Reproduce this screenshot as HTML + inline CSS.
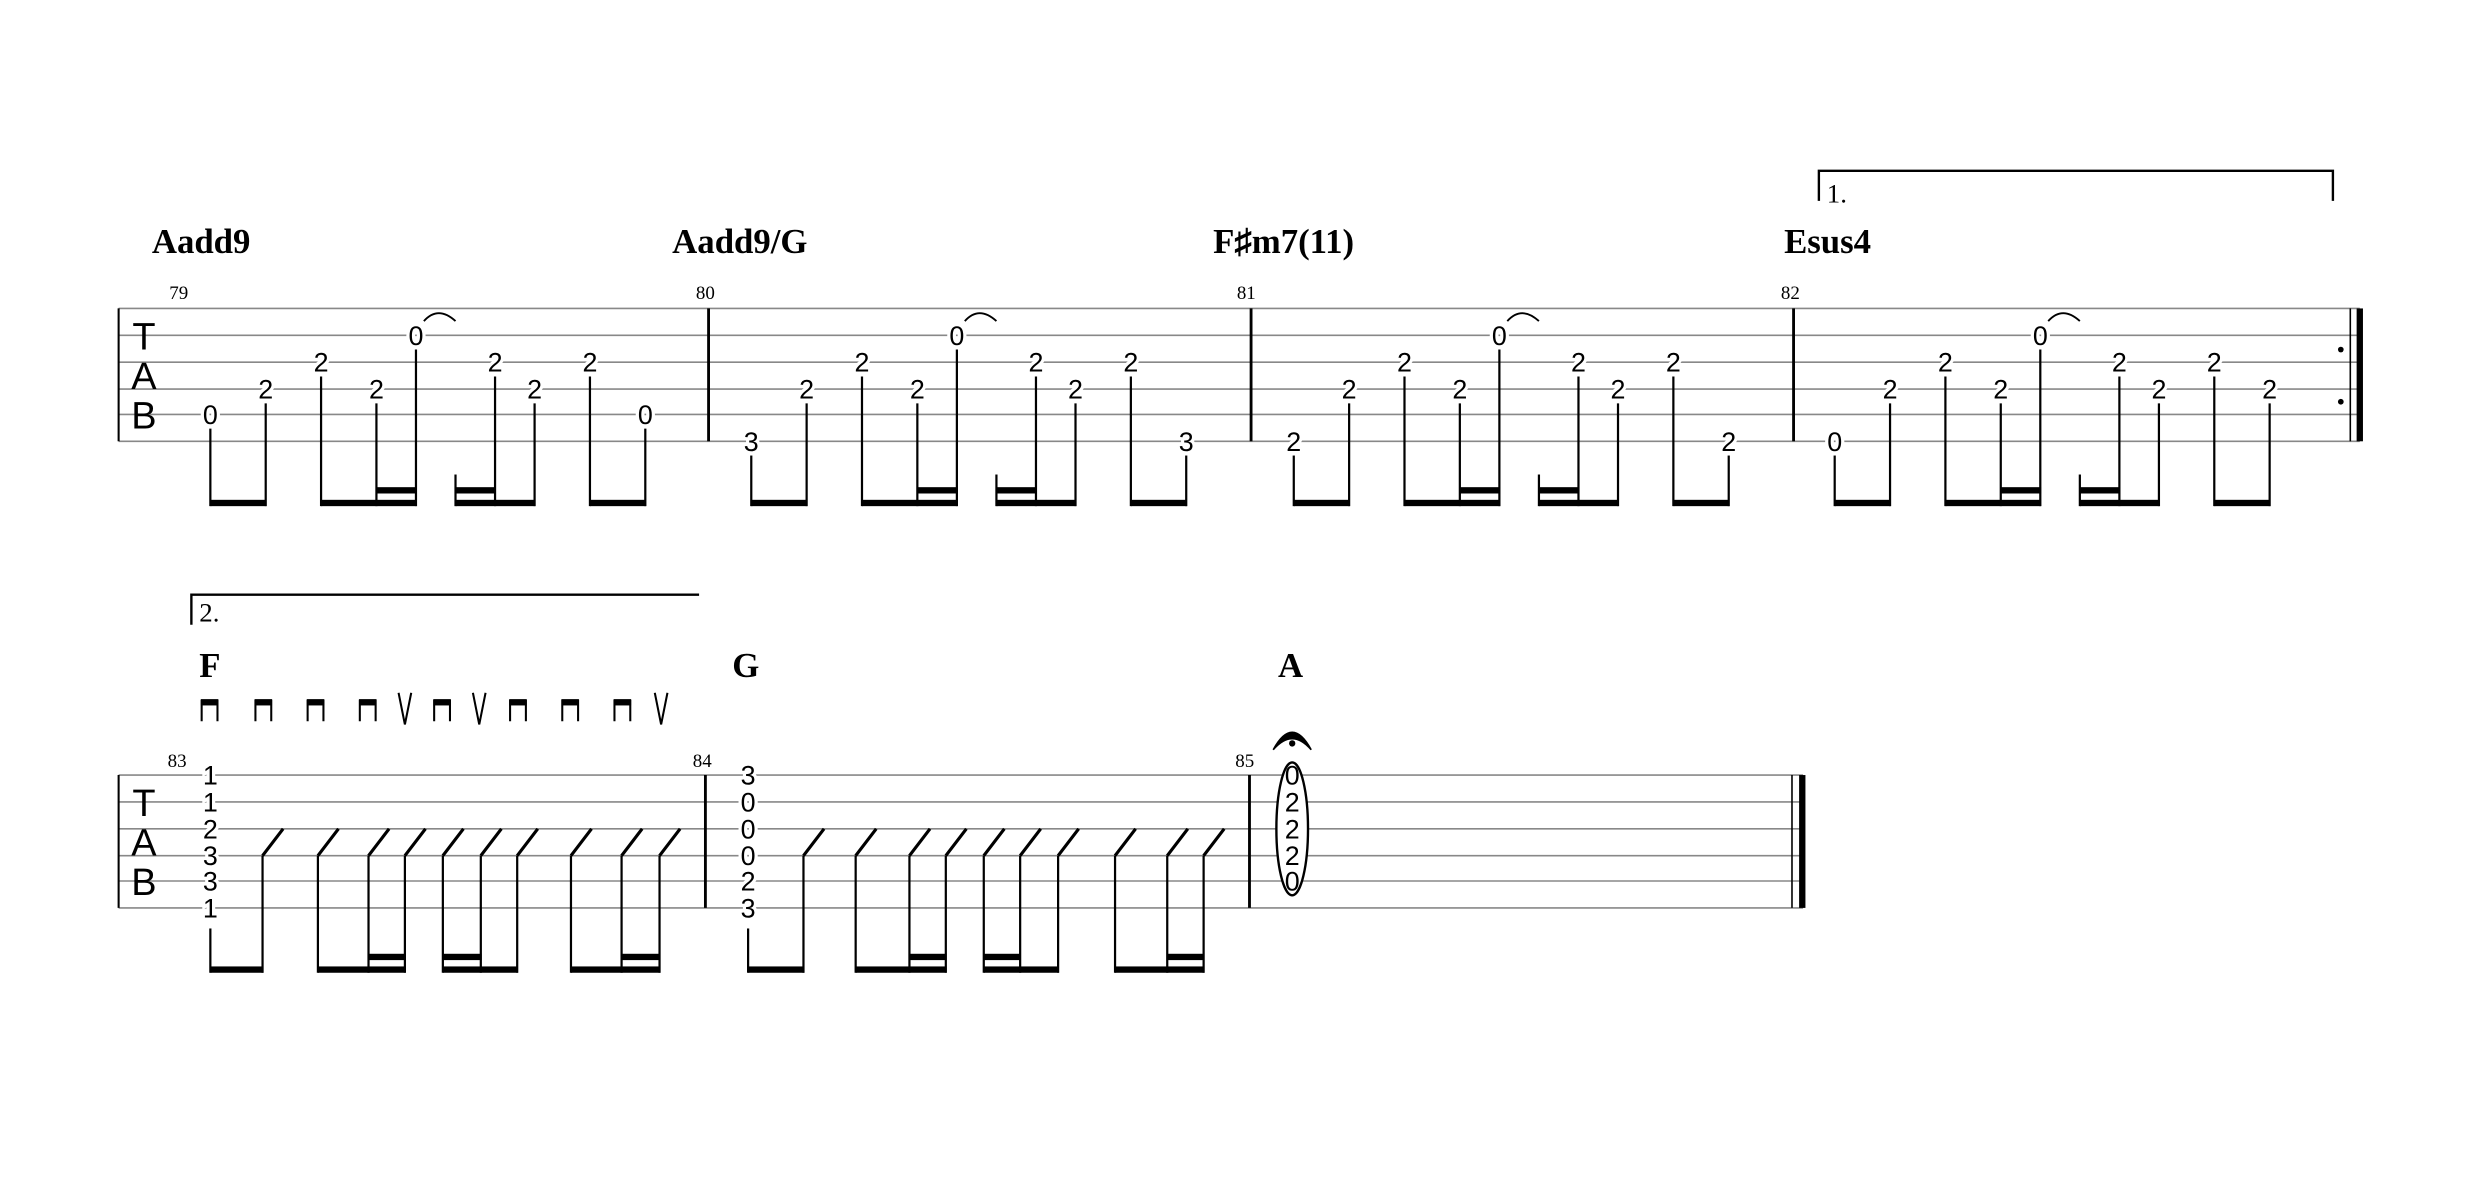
<!DOCTYPE html>
<html><head><meta charset="utf-8"><style>
html,body{margin:0;padding:0;background:#fff;width:2480px;height:1201px;overflow:hidden}
svg{display:block}
.f{font-family:"Liberation Sans",sans-serif;font-size:17px;text-anchor:middle;fill:#000;stroke:#fff;stroke-width:4px;paint-order:stroke}
.c{font-family:"Liberation Serif",serif;font-weight:bold;font-size:22px;fill:#000}
.n{font-family:"Liberation Serif",serif;font-size:12px;fill:#000}
.tab{font-family:"Liberation Sans",sans-serif;font-size:24px;text-anchor:middle;fill:#000}
.l{stroke:#888;stroke-width:1}
.s{stroke:#000;stroke-width:1.4}
</style></head><body>
<svg width="2480" height="1201" viewBox="0 0 1568 759.3" preserveAspectRatio="none" xmlns="http://www.w3.org/2000/svg">
<g class="l">
<line x1="75" y1="195" x2="1492" y2="195"/><line x1="75" y1="212" x2="1492" y2="212"/><line x1="75" y1="229" x2="1492" y2="229"/>
<line x1="75" y1="246" x2="1492" y2="246"/><line x1="75" y1="262" x2="1492" y2="262"/><line x1="75" y1="279" x2="1492" y2="279"/>
</g>
<g stroke="#000">
<line x1="75" y1="195" x2="75" y2="279" stroke-width="1.3"/>
<line x1="448" y1="195" x2="448" y2="279" stroke-width="1.8"/>
<line x1="791" y1="195" x2="791" y2="279" stroke-width="1.8"/>
<line x1="1134" y1="195" x2="1134" y2="279" stroke-width="1.8"/>
<line x1="1486" y1="195" x2="1486" y2="279" stroke-width="1"/>
</g>
<rect x="1490" y="195" width="4" height="84" fill="#000"/>
<circle cx="1480" cy="221" r="1.8" fill="#000"/><circle cx="1480" cy="254" r="1.8" fill="#000"/>
<text class="tab" x="91" y="221">T</text><text class="tab" x="91" y="246">A</text><text class="tab" x="91" y="271">B</text>
<text class="n" x="107" y="189">79</text><text class="n" x="440" y="189">80</text><text class="n" x="782" y="189">81</text><text class="n" x="1126" y="189">82</text>
<text class="c" x="96" y="160">Aadd9</text><text class="c" x="425" y="160">Aadd9/G</text><text class="c" x="767" y="160">F♯m7(11)</text><text class="c" x="1128" y="160">Esus4</text>
<path d="M1150 127 V108 H1475 V127" fill="none" stroke="#000" stroke-width="1.5"/>
<text class="n" x="1155" y="128" style="font-size:17px">1.</text>

<g fill="none" stroke="#000" stroke-width="1.2">
<path d="M268 203 Q277 193 288 203"/><path d="M610 203 Q619 193 630 203"/><path d="M953 203 Q962 193 973 203"/><path d="M1295 203 Q1304 193 1315 203"/>
</g>

<g class="s">
<line x1="133" y1="271" x2="133" y2="320"/><line x1="168" y1="255" x2="168" y2="320"/><line x1="203" y1="238" x2="203" y2="320"/>
<line x1="238" y1="255" x2="238" y2="320"/><line x1="263" y1="221" x2="263" y2="320"/><line x1="288" y1="300" x2="288" y2="320"/>
<line x1="313" y1="238" x2="313" y2="320"/><line x1="338" y1="255" x2="338" y2="320"/><line x1="373" y1="238" x2="373" y2="320"/><line x1="408" y1="271" x2="408" y2="320"/>
<line x1="475" y1="288" x2="475" y2="320"/><line x1="510" y1="255" x2="510" y2="320"/><line x1="545" y1="238" x2="545" y2="320"/>
<line x1="580" y1="255" x2="580" y2="320"/><line x1="605" y1="221" x2="605" y2="320"/><line x1="630" y1="300" x2="630" y2="320"/>
<line x1="655" y1="238" x2="655" y2="320"/><line x1="680" y1="255" x2="680" y2="320"/><line x1="715" y1="238" x2="715" y2="320"/><line x1="750" y1="288" x2="750" y2="320"/>
<line x1="818" y1="288" x2="818" y2="320"/><line x1="853" y1="255" x2="853" y2="320"/><line x1="888" y1="238" x2="888" y2="320"/>
<line x1="923" y1="255" x2="923" y2="320"/><line x1="948" y1="221" x2="948" y2="320"/><line x1="973" y1="300" x2="973" y2="320"/>
<line x1="998" y1="238" x2="998" y2="320"/><line x1="1023" y1="255" x2="1023" y2="320"/><line x1="1058" y1="238" x2="1058" y2="320"/><line x1="1093" y1="288" x2="1093" y2="320"/>
<line x1="1160" y1="288" x2="1160" y2="320"/><line x1="1195" y1="255" x2="1195" y2="320"/><line x1="1230" y1="238" x2="1230" y2="320"/>
<line x1="1265" y1="255" x2="1265" y2="320"/><line x1="1290" y1="221" x2="1290" y2="320"/><line x1="1315" y1="300" x2="1315" y2="320"/>
<line x1="1340" y1="238" x2="1340" y2="320"/><line x1="1365" y1="255" x2="1365" y2="320"/><line x1="1400" y1="238" x2="1400" y2="320"/><line x1="1435" y1="255" x2="1435" y2="320"/>
</g>
<g fill="#000">
<rect x="133" y="316" width="35.5" height="4"/><rect x="203" y="316" width="60.5" height="4"/><rect x="288" y="316" width="50.5" height="4"/><rect x="373" y="316" width="35.5" height="4"/>
<rect x="238" y="308" width="25.5" height="4"/><rect x="288" y="308" width="25.5" height="4"/>
<rect x="475" y="316" width="35.5" height="4"/><rect x="545" y="316" width="60.5" height="4"/><rect x="630" y="316" width="50.5" height="4"/><rect x="715" y="316" width="35.5" height="4"/>
<rect x="580" y="308" width="25.5" height="4"/><rect x="630" y="308" width="25.5" height="4"/>
<rect x="818" y="316" width="35.5" height="4"/><rect x="888" y="316" width="60.5" height="4"/><rect x="973" y="316" width="50.5" height="4"/><rect x="1058" y="316" width="35.5" height="4"/>
<rect x="923" y="308" width="25.5" height="4"/><rect x="973" y="308" width="25.5" height="4"/>
<rect x="1160" y="316" width="35.5" height="4"/><rect x="1230" y="316" width="60.5" height="4"/><rect x="1315" y="316" width="50.5" height="4"/><rect x="1400" y="316" width="35.5" height="4"/>
<rect x="1265" y="308" width="25.5" height="4"/><rect x="1315" y="308" width="25.5" height="4"/>
</g>
<g class="f">
<text x="133" y="268">0</text><text x="168" y="252">2</text><text x="203" y="235">2</text><text x="238" y="252">2</text><text x="263" y="218">0</text>
<text x="313" y="235">2</text><text x="338" y="252">2</text><text x="373" y="235">2</text><text x="408" y="268">0</text>
<text x="475" y="285">3</text><text x="510" y="252">2</text><text x="545" y="235">2</text><text x="580" y="252">2</text><text x="605" y="218">0</text>
<text x="655" y="235">2</text><text x="680" y="252">2</text><text x="715" y="235">2</text><text x="750" y="285">3</text>
<text x="818" y="285">2</text><text x="853" y="252">2</text><text x="888" y="235">2</text><text x="923" y="252">2</text><text x="948" y="218">0</text>
<text x="998" y="235">2</text><text x="1023" y="252">2</text><text x="1058" y="235">2</text><text x="1093" y="285">2</text>
<text x="1160" y="285">0</text><text x="1195" y="252">2</text><text x="1230" y="235">2</text><text x="1265" y="252">2</text><text x="1290" y="218">0</text>
<text x="1340" y="235">2</text><text x="1365" y="252">2</text><text x="1400" y="235">2</text><text x="1435" y="252">2</text>
</g>

<g class="l">
<line x1="75" y1="490" x2="1140" y2="490"/><line x1="75" y1="507" x2="1140" y2="507"/><line x1="75" y1="524" x2="1140" y2="524"/>
<line x1="75" y1="541" x2="1140" y2="541"/><line x1="75" y1="557" x2="1140" y2="557"/><line x1="75" y1="574" x2="1140" y2="574"/>
</g>
<g stroke="#000">
<line x1="75" y1="490" x2="75" y2="574" stroke-width="1.3"/>
<line x1="446" y1="490" x2="446" y2="574" stroke-width="1.8"/>
<line x1="790" y1="490" x2="790" y2="574" stroke-width="1.8"/>
<line x1="1133" y1="490" x2="1133" y2="574" stroke-width="1"/>
</g>
<rect x="1137.5" y="490" width="4" height="84" fill="#000"/>
<text class="tab" x="91" y="516">T</text><text class="tab" x="91" y="541">A</text><text class="tab" x="91" y="566">B</text>
<text class="n" x="106" y="485">83</text><text class="n" x="438" y="485">84</text><text class="n" x="781" y="485">85</text>
<text class="c" x="126" y="428">F</text><text class="c" x="463" y="428">G</text><text class="c" x="808" y="428">A</text>
<path d="M121 395 V376 H442" fill="none" stroke="#000" stroke-width="1.5"/>
<text class="n" x="126" y="393" style="font-size:17px">2.</text>
<g fill="none" stroke="#000" stroke-width="1.3">
<path d="M127.5 456 V443 H137.5 V456"/><path d="M161.5 456 V443 H171.5 V456"/><path d="M194.5 456 V443 H204.5 V456"/><path d="M227.5 456 V443 H237.5 V456"/>
<path d="M274.5 456 V443 H284.5 V456"/><path d="M322.5 456 V443 H332.5 V456"/><path d="M355.5 456 V443 H365.5 V456"/><path d="M388.5 456 V443 H398.5 V456"/>
<path d="M252 438 L256 458 L260 438"/><path d="M299 438 L303 458 L307 438"/><path d="M414 438 L418 458 L422 438"/>
</g>
<g fill="#000">
<rect x="127" y="442" width="11" height="4"/><rect x="161" y="442" width="11" height="4"/><rect x="194" y="442" width="11" height="4"/><rect x="227" y="442" width="11" height="4"/>
<rect x="274" y="442" width="11" height="4"/><rect x="322" y="442" width="11" height="4"/><rect x="355" y="442" width="11" height="4"/><rect x="388" y="442" width="11" height="4"/>
</g>
<g class="s">
<line x1="133" y1="587" x2="133" y2="615"/>
<line x1="473" y1="587" x2="473" y2="615"/>
</g>
<g stroke="#000" stroke-width="1.4">
<path d="M166 615 V541 M201 615 V541 M233 615 V541 M256 615 V541 M280 615 V541 M304 615 V541 M327 615 V541 M361 615 V541 M393 615 V541 M417 615 V541"/>
<path d="M508 615 V541 M541 615 V541 M575 615 V541 M598 615 V541 M622 615 V541 M645 615 V541 M669 615 V541 M705 615 V541 M738 615 V541 M761 615 V541"/>
</g>
<g stroke="#000" stroke-width="2">
<path d="M166 541 l13 -17 M201 541 l13 -17 M233 541 l13 -17 M256 541 l13 -17 M280 541 l13 -17 M304 541 l13 -17 M327 541 l13 -17 M361 541 l13 -17 M393 541 l13 -17 M417 541 l13 -17"/>
<path d="M508 541 l13 -17 M541 541 l13 -17 M575 541 l13 -17 M598 541 l13 -17 M622 541 l13 -17 M645 541 l13 -17 M669 541 l13 -17 M705 541 l13 -17 M738 541 l13 -17 M761 541 l13 -17"/>
</g>
<g fill="#000">
<rect x="133" y="611" width="33.5" height="4"/><rect x="201" y="611" width="55.5" height="4"/><rect x="280" y="611" width="47.5" height="4"/><rect x="361" y="611" width="56.5" height="4"/>
<rect x="233" y="603" width="23.5" height="4"/><rect x="280" y="603" width="24.5" height="4"/><rect x="393" y="603" width="24.5" height="4"/>
<rect x="473" y="611" width="35.5" height="4"/><rect x="541" y="611" width="57.5" height="4"/><rect x="622" y="611" width="47.5" height="4"/><rect x="705" y="611" width="56.5" height="4"/>
<rect x="575" y="603" width="23.5" height="4"/><rect x="622" y="603" width="23.5" height="4"/><rect x="738" y="603" width="23.5" height="4"/>
</g>
<g class="f">
<text x="133" y="496">1</text><text x="133" y="513">1</text><text x="133" y="530">2</text><text x="133" y="547">3</text><text x="133" y="563">3</text><text x="133" y="580">1</text>
<text x="473" y="496">3</text><text x="473" y="513">0</text><text x="473" y="530">0</text><text x="473" y="547">0</text><text x="473" y="563">2</text><text x="473" y="580">3</text>
</g>
<ellipse cx="817" cy="524" rx="10" ry="42" fill="#fff" stroke="#000" stroke-width="1.5"/>
<g class="f" style="stroke:none">
<text x="817" y="496">0</text><text x="817" y="513">2</text><text x="817" y="530">2</text><text x="817" y="547">2</text><text x="817" y="563">0</text>
</g>
<path d="M805 474 Q817 452 829 474 Q817 460 805 474 Z" fill="#000" stroke="#000" stroke-width="1"/>
<circle cx="817" cy="470" r="2" fill="#000"/>
</svg>
</body></html>
